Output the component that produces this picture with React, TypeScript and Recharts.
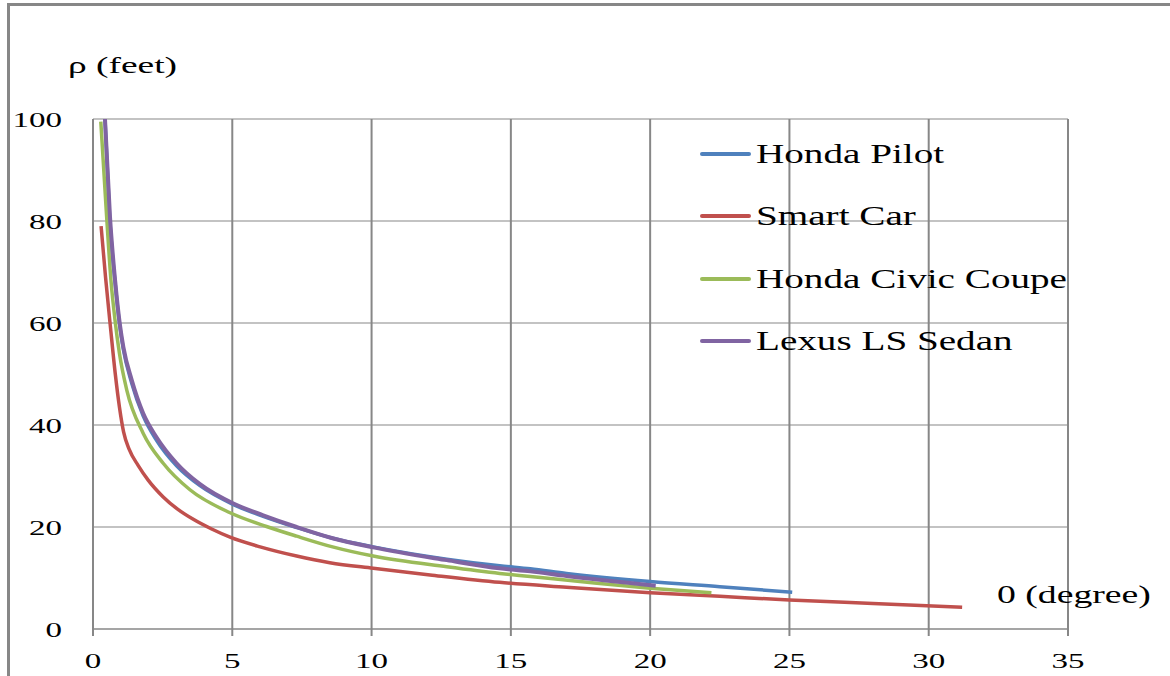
import React from "react";
import {
  LineChart,
  Line,
  XAxis,
  YAxis,
  CartesianGrid,
} from "recharts";

// θ (degree), ρ (feet) pairs
const hondaPilot: [number, number][] = [
  [0.43, 100], [0.6, 80.5], [0.8, 67.5], [0.97, 59], [1.09, 54.8], [1.39, 48.2],
  [1.8, 41.8], [2.28, 37.0], [3.0, 32.0], [3.84, 28.1], [5.04, 24.4], [6.11, 22.1],
  [7.31, 19.9], [8.6, 17.8], [10.06, 16.1], [12.7, 13.7], [14.6, 12.4], [15.7, 11.8],
  [17, 10.9], [20, 9.3], [22.5, 8.3], [25.1, 7.2],
];

const smartCar: [number, number][] = [
  [0.29, 79], [0.45, 69], [0.63, 59], [0.8, 50], [0.95, 43.5], [1.1, 38.6],
  [1.3, 35.2], [1.63, 32.0], [1.98, 29.2], [2.52, 25.9], [3.06, 23.4], [3.6, 21.5],
  [4.26, 19.6], [4.92, 18], [6, 16.1], [7.31, 14.3], [8.5, 13], [10.06, 11.9],
  [12.1, 10.6], [14.6, 9.15], [17, 8.2], [20, 7.1], [22.5, 6.4], [25, 5.7],
  [28, 5.0], [31.2, 4.25],
];

const hondaCivic: [number, number][] = [
  [0.28, 99.5], [0.49, 80.8], [0.65, 68], [0.79, 60.6], [0.95, 54], [1.21, 46.9],
  [1.8, 38.4], [2.52, 32.5], [3.48, 27.3], [4.92, 22.8], [6.23, 20.1], [7.31, 18.2],
  [8.6, 16.1], [10.06, 14.3], [12.7, 12.2], [14.6, 10.9], [15.7, 10.3], [18, 9.0],
  [20, 8.0], [22.2, 7.1],
];

const lexusLS: [number, number][] = [
  [0.43, 100], [0.61, 80.8], [0.8, 68], [0.97, 59.5], [1.09, 55.3], [1.39, 48.8],
  [1.8, 42.3], [2.28, 37.6], [3.0, 32.5], [3.84, 28.4], [5.04, 24.6], [6.11, 22.3],
  [7.31, 20.0], [8.6, 17.8], [10.06, 16.0], [12.7, 13.5], [14.6, 11.9], [15.7, 11.3],
  [17, 10.4], [20.2, 8.5],
];

const xTicks = [0, 5, 10, 15, 20, 25, 30, 35];
const yTicks = [0, 20, 40, 60, 80, 100];

const series = [
  { name: "Honda Pilot", color: "#4f81bd", width: 3.5, points: hondaPilot },
  { name: "Smart Car", color: "#c0504d", width: 3.5, points: smartCar },
  { name: "Honda Civic Coupe", color: "#9bbb59", width: 3.5, points: hondaCivic },
  { name: "Lexus LS Sedan", color: "#8064a2", width: 4, points: lexusLS },
];

const FONT = "'Liberation Serif', 'Times New Roman', serif";
const GRID = "#878787";

const toRows = (pts: [number, number][]) => pts.map(([x, y]) => ({ x, y }));

const XTick = ({ x, y, payload }: any) => (
  <text
    transform={`translate(${x},${y + 32}) scale(1.5,1)`}
    textAnchor="middle"
    fontFamily={FONT}
    fontSize={22}
    fill="#000"
  >
    {payload.value}
  </text>
);

const YTick = ({ x, y, payload }: any) => (
  <text
    transform={`translate(${x},${y + 8}) scale(1.5,1)`}
    textAnchor="end"
    fontFamily={FONT}
    fontSize={22}
    fill="#000"
  >
    {payload.value}
  </text>
);

const stretched = (scale: number): React.CSSProperties => ({
  display: "inline-block",
  transform: `scaleX(${scale})`,
  transformOrigin: "left center",
  whiteSpace: "nowrap",
});

export default function App() {
  return (
    <div
      style={{
        position: "absolute",
        left: 0,
        top: 0,
        width: 1170,
        height: 676,
        background: "#fff",
        overflow: "hidden",
        fontFamily: FONT,
        color: "#000",
      }}
    >
      <div
        style={{
          position: "absolute",
          left: 7,
          top: 3,
          right: -10,
          bottom: -10,
          borderTop: `3px solid ${GRID}`,
          borderLeft: `3px solid ${GRID}`,
        }}
      />
      <div style={{ position: "absolute", left: 0, top: 0 }}>
        <LineChart
          width={1170}
          height={676}
          margin={{ top: 119, right: 102, bottom: 0, left: 8 }}
        >
          <CartesianGrid stroke={GRID} strokeWidth={1} vertical={false} />
          <CartesianGrid stroke={GRID} strokeWidth={2} horizontal={false} />
          <XAxis
            type="number"
            dataKey="x"
            domain={[0, 35]}
            ticks={xTicks}
            allowDataOverflow
            height={47}
            axisLine={{ stroke: GRID, strokeWidth: 1 }}
            tickLine={{ stroke: GRID, strokeWidth: 2 }}
            tickSize={7}
            tickMargin={0}
            tick={<XTick />}
          />
          <YAxis
            type="number"
            dataKey="y"
            domain={[0, 100]}
            ticks={yTicks}
            allowDataOverflow
            width={85}
            axisLine={{ stroke: GRID, strokeWidth: 1 }}
            tickLine={false}
            tickSize={0}
            tickMargin={31}
            tick={<YTick />}
          />
          {series.map((s) => (
            <Line
              key={s.name}
              name={s.name}
              data={toRows(s.points)}
              dataKey="y"
              type="monotone"
              stroke={s.color}
              strokeWidth={s.width}
              dot={false}
              activeDot={false}
              isAnimationActive={false}
            />
          ))}
        </LineChart>
      </div>

      <div style={{ position: "absolute", left: 68, top: 50, fontSize: 24, lineHeight: "30px" }}>
        <span style={stretched(1.56)}>ρ (feet)</span>
      </div>
      <div style={{ position: "absolute", left: 997, top: 580, fontSize: 26, lineHeight: "30px" }}>
        <span style={stretched(1.45)}>0 (degree)</span>
      </div>

      {series.map((s, i) => (
        <div
          key={s.name}
          style={{
            position: "absolute",
            left: 700,
            top: 138 + i * 62.3,
            height: 32,
            display: "flex",
            alignItems: "center",
          }}
        >
          <div style={{ width: 51, height: 4, background: s.color, borderRadius: 2 }} />
          <div style={{ marginLeft: 5, fontSize: 27, lineHeight: "32px" }}>
            <span style={stretched(1.45)}>{s.name}</span>
          </div>
        </div>
      ))}
    </div>
  );
}
